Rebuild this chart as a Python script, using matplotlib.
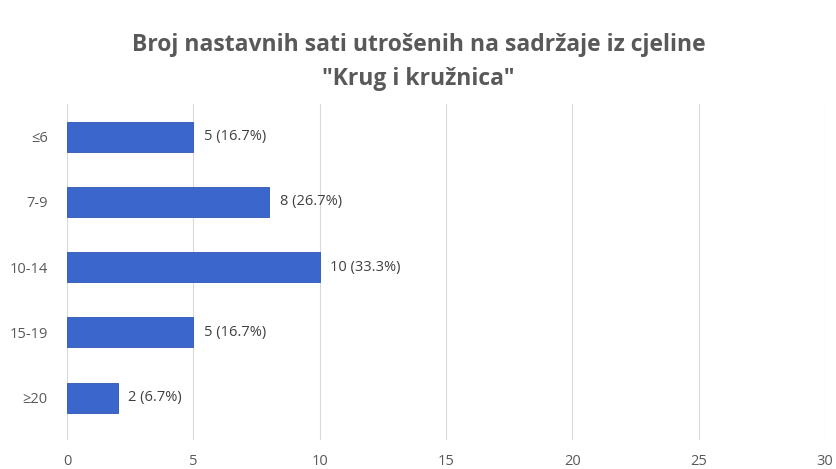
import matplotlib
matplotlib.use("Agg")
import matplotlib.pyplot as plt
import numpy as np

categories = ["≤6", "7-9", "10-14", "15-19", "≥20"]
values = [5, 8, 10, 5, 2]
labels = ["5 (16.7%)", "8 (26.7%)", "10 (33.3%)", "5 (16.7%)", "2 (6.7%)"]
xticks = [0, 5, 10, 15, 20, 25, 30]

plt.rcParams['font.family'] = ['Open Sans', 'DejaVu Sans']

fig = plt.figure(figsize=(8.37, 4.69), dpi=100)
ax = fig.add_axes([67/837, 1-440/469, (825-67)/837, (440-104)/469])

y = np.arange(len(categories))
ax.barh(y, values, height=0.46, color="#3B67CC", edgecolor="#2F56B0", linewidth=0.6, zorder=3)
for yi, v, lab in zip(y, values, labels):
    ax.text(v + 0.42, yi, lab, va="center", ha="left", fontsize=10.5, color="#404040")

ax.set_xlim(0, 30)
ax.set_ylim(len(categories) - 0.5 + 0.15, -0.5)
ax.set_yticks(y)
ax.set_yticklabels(categories, fontsize=10.5, color="#595959")
ax.set_xticks(xticks)
ax.set_xticklabels([str(t) for t in xticks], fontsize=10.5, color="#595959")
ax.grid(axis="x", color="#D9D9D9", linewidth=0.8, zorder=0)
for s in ax.spines.values():
    s.set_visible(False)
ax.tick_params(axis="both", length=0)
ax.tick_params(axis="x", pad=10)
ax.tick_params(axis="y", pad=14)

fig.text(0.5, 1-45/469, "Broj nastavnih sati utrošenih na sadržaje iz cjeline", ha="center", va="center",
         fontsize=16.5, fontweight="bold", color="#595959")
fig.text(0.5, 1-79/469, "\"Krug i kružnica\"", ha="center", va="center",
         fontsize=16.5, fontweight="bold", color="#595959")

fig.savefig("out.png", dpi=100)
